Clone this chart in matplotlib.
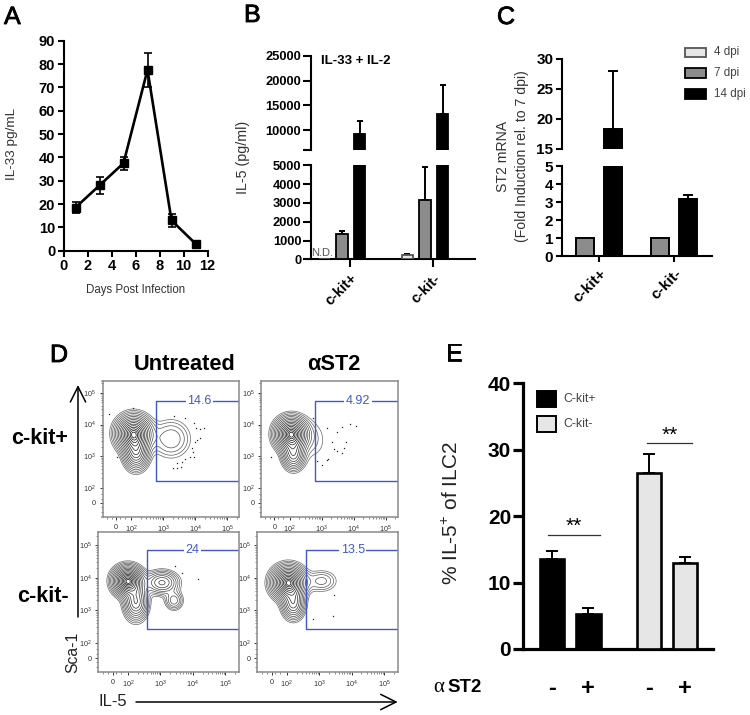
import numpy as np
import matplotlib
matplotlib.use("Agg")
import matplotlib.pyplot as plt
import matplotlib.patheffects as pe
from matplotlib.patches import Rectangle

plt.rcParams['font.family'] = ['Liberation Sans', 'DejaVu Sans']
plt.rcParams['mathtext.default'] = 'regular'

W, H = 750, 715

# panel A
a_days = [1, 3, 5, 7, 9, 11]
a_il33 = [18.5, 28, 37.5, 77.5, 13, 3]
a_err = [2.5, 3.7, 2.8, 7.4, 2.8, 0.8]

# panel B, bar height and top of the error bar
b_groups = ["c-kit+", "c-kit-"]
b_4dpi = [0, 230]
b_4dpi_top = [0, 290]
b_7dpi = [1320, 3130]
b_7dpi_top = [1500, 4900]
b_14dpi = [9300, 13200]
b_14dpi_top = [11900, 19200]

# panel C
c_groups = ["c-kit+", "c-kit-"]
c_7dpi = [1, 1]
c_14dpi = [18.3, 3.15]
c_14dpi_top = [28, 3.4]

# panel E
e_values = [13.6, 5.3, 26.5, 13]
e_tops = [14.8, 6.1, 29.4, 13.9]
e_signs = ["-", "+", "-", "+"]

# panel D, density peaks: x, y, sd x, sd y, height
d_blobs_untreated_pos = [(2.08, 3.72, 0.29, 0.30, 1.0), (2.16, 3.10, 0.21, 0.29, 0.55),
                         (3.25, 3.55, 0.36, 0.36, 0.15)]
d_blobs_ast2_pos = [(2.05, 3.70, 0.27, 0.28, 1.0), (2.12, 3.05, 0.19, 0.26, 0.45),
                    (2.75, 3.50, 0.32, 0.46, 0.05)]
d_blobs_untreated_neg = [(2.00, 3.90, 0.25, 0.24, 1.0), (2.25, 3.25, 0.20, 0.30, 0.50),
                         (3.05, 3.85, 0.28, 0.20, 0.35), (3.42, 3.30, 0.16, 0.17, 0.18)]
d_blobs_ast2_neg = [(2.05, 3.85, 0.28, 0.27, 1.0), (2.20, 3.20, 0.19, 0.26, 0.45),
                    (3.08, 3.90, 0.28, 0.20, 0.12)]

# outlying events
d_dots_untreated_pos_x = [1.31, 2.05, 3.34, 3.67, 3.95, 4.03, 4.16, 4.29, 4.16, 4.05, 3.99,
                          3.90, 3.93, 3.84, 3.97, 3.69, 3.58, 3.43, 3.32, 3.43, 3.56, 1.55]
d_dots_untreated_pos_y = [4.34, 4.53, 4.27, 4.22, 4.04, 3.88, 3.86, 3.90, 3.59, 3.51, 3.44,
                          3.25, 3.13, 2.99, 2.99, 2.91, 2.83, 2.78, 2.64, 2.62, 2.65, 2.99]
d_dots_ast2_pos_x = [2.72, 3.18, 3.64, 3.89, 4.08, 3.47, 3.32, 3.76, 3.39, 3.47, 3.70, 3.64,
                     3.21, 3.16, 3.02, 1.42, 2.85]
d_dots_ast2_pos_y = [4.20, 3.90, 3.93, 4.03, 3.97, 3.77, 3.45, 3.46, 3.23, 3.17, 3.25, 3.10,
                     2.91, 2.88, 2.73, 2.98, 2.85]
d_dots_untreated_neg_x = [3.45, 3.68, 4.17]
d_dots_untreated_neg_y = [4.36, 4.16, 3.96]
d_dots_ast2_neg_x = [3.46, 2.82, 3.41]
d_dots_ast2_neg_y = [3.47, 2.72, 2.81]

d_percent = ["14.6", "4.92", "24", "13.5"]

GRAY = "#8c8c8c"
LIGHT = "#e6e6e6"
TEXT = "#333333"
BLUE = "#3f58cc"


def px_axes(left, top, right, bottom):
    ax = fig.add_axes([left / W, 1 - bottom / H, (right - left) / W, (bottom - top) / H])
    ax.patch.set_visible(False)
    return ax


def style_axis(ax, size, lw, length, bottom=True):
    ax.spines["top"].set_visible(False)
    ax.spines["right"].set_visible(False)
    ax.spines["left"].set_linewidth(lw)
    ax.spines["bottom"].set_linewidth(lw)
    ax.spines["bottom"].set_visible(bottom)
    ax.tick_params(width=lw, length=length, labelsize=size, pad=1.5)
    for label in ax.get_xticklabels() + ax.get_yticklabels():
        label.set_fontweight("bold")


def draw_bars(ax, x, values, tops, fill, edge, width, lw, capsize):
    values = np.array(values, dtype=float)
    ax.bar(x, values, width=width, color=fill, edgecolor=edge, linewidth=lw, zorder=3)
    if tops is not None:
        upper = np.array(tops, dtype=float) - values
        ax.errorbar(x, values, yerr=[np.zeros(len(values)), upper], fmt="none", ecolor="black",
                    elinewidth=1.4, capsize=capsize, capthick=1.4, zorder=2)


def draw_flow(box, xlim, ylim, blobs, dots_x, dots_y, gate, percent, percent_x):
    ax = px_axes(*box)
    gx = np.linspace(xlim[0], xlim[1], 400)
    gy = np.linspace(ylim[0], ylim[1], 400)
    X, Y = np.meshgrid(gx, gy)
    Z = np.zeros_like(X)
    for cx, cy, sx, sy, amp in blobs:
        Z += amp * np.exp(-0.5 * (((X - cx) / sx) ** 2 + ((Y - cy) / sy) ** 2))
    Z = Z / Z.max()
    # rings evenly spaced in radius, outer ones paler like the reference plots
    radii = np.linspace(2.6, 0.25, 16)
    levels = np.exp(-0.5 * radii ** 2)
    shades = plt.get_cmap("gray")(np.linspace(0.4, 0.0, len(levels)))
    ax.contour(X, Y, Z, levels=levels, colors=shades, linewidths=0.5)
    ax.plot(dots_x, dots_y, ls="none", marker="s", ms=0.9, color="#222222", mew=0)

    # gate is open on the right, it runs into the frame
    left, low, high = gate
    ax.plot([xlim[1], left, left, xlim[1]], [high, high, low, low], color=BLUE, lw=1.0)
    ax.text(percent_x, high, percent, color=BLUE, fontsize=9, ha="center", va="center",
            bbox=dict(facecolor="white", edgecolor="none", pad=1.2))

    ax.set_xlim(xlim)
    ax.set_ylim(ylim)
    ticks = [1.53, 2, 3, 4, 5]
    labels = ["0", "$10^{2}$", "$10^{3}$", "$10^{4}$", "$10^{5}$"]
    minor = [d + np.log10(m) for d in range(2, 5) for m in range(2, 10)]
    minor += [1.25, 1.4, 1.65, 1.8, 5.3]
    for axis in (ax.xaxis, ax.yaxis):
        axis.set_ticks(ticks)
        axis.set_ticklabels(labels)
        axis.set_ticks(minor, minor=True)
    ax.tick_params(which="major", length=2.2, width=0.7, labelsize=5.2, pad=2.5,
                   color="#333333", labelcolor=TEXT)
    ax.tick_params(which="minor", length=1.2, width=0.4, color="#333333")
    for spine in ax.spines.values():
        spine.set_color("#8a8a8a")
        spine.set_linewidth(1.1)
    return ax


fig = plt.figure(figsize=(W / 100, H / 100), dpi=100, facecolor="white")

# A
ax = px_axes(63.5, 40.7, 207.5, 250.7)
ax.errorbar(a_days, a_il33, yerr=a_err, color="black", lw=1.9, marker="s", ms=5.5,
            elinewidth=1.2, capsize=3, capthick=1.2, clip_on=False)
ax.set_xlim(0, 12)
ax.set_ylim(0, 90)
ax.set_xticks(range(0, 13, 2))
ax.set_yticks(range(0, 91, 10))
style_axis(ax, 10.5, 1.5, 4.5)

# B, broken y axis, same bars in both parts
b_x = np.array([0, 4.72])
for box, ylim in (((311, 165.3, 475, 259.3), (0, 5000)), ((311, 56, 475, 150), (6000, 25000))):
    ax = px_axes(*box)
    draw_bars(ax, b_x - 1, b_4dpi, b_4dpi_top, LIGHT, "#555555", 0.66, 1.3, 2.5)
    draw_bars(ax, b_x, b_7dpi, b_7dpi_top, GRAY, "black", 0.66, 1.3, 2.5)
    draw_bars(ax, b_x + 1, b_14dpi, b_14dpi_top, "black", "black", 0.66, 1.3, 2.5)
    ax.set_xlim(-1.76, 7.56)
    ax.set_ylim(ylim)
    if ylim[0] == 0:
        ax.set_yticks(range(0, 5001, 1000))
        ax.set_xticks(b_x + 0.45)
        ax.set_xticklabels(b_groups, rotation=45, ha="right", va="top", rotation_mode="anchor")
        style_axis(ax, 9.3, 1.5, 5.5)
        ax.tick_params(axis="x", labelsize=10.5, pad=3)
    else:
        ax.set_yticks([6000, 10000, 15000, 20000, 25000])
        ax.set_yticklabels(["", "10000", "15000", "20000", "25000"])
        ax.set_xticks([])
        style_axis(ax, 9.3, 1.5, 5.5, bottom=False)

# C, broken y axis, no 4 dpi bars here
c_x = np.array([0, 2.68])
for box, ylim in (((561.7, 166, 711.7, 256.3), (0, 5)), ((561.7, 58.7, 711.7, 148.7), (15, 30))):
    ax = px_axes(*box)
    draw_bars(ax, c_x, c_7dpi, None, GRAY, "black", 0.64, 1.4, 3.8)
    draw_bars(ax, c_x + 1, c_14dpi, c_14dpi_top, "black", "black", 0.64, 1.4, 3.8)
    ax.set_xlim(-0.83, 4.52)
    ax.set_ylim(ylim)
    if ylim[0] == 0:
        ax.set_yticks(range(0, 6))
        ax.set_xticks(c_x + 0.5)
        ax.set_xticklabels(c_groups, rotation=45, ha="right", va="top", rotation_mode="anchor")
        style_axis(ax, 11, 1.5, 4.5)
        ax.tick_params(axis="x", pad=3)
    else:
        ax.set_yticks([15, 20, 25, 30])
        ax.set_xticks([])
        style_axis(ax, 11, 1.5, 4.5, bottom=False)

# D
top_x, top_y = (1.11, 5.37), (1.085, 5.375)
low_x, low_y = (1.09, 5.42), (1.09, 5.40)
draw_flow((102.5, 381, 239, 517), top_x, top_y, d_blobs_untreated_pos, d_dots_untreated_pos_x,
          d_dots_untreated_pos_y, (2.77, 2.23, 4.73), d_percent[0], 4.14)
draw_flow((261, 381, 397.7, 517), top_x, top_y, d_blobs_ast2_pos, d_dots_ast2_pos_x,
          d_dots_ast2_pos_y, (2.78, 2.23, 4.73), d_percent[1], 4.14)
draw_flow((98.3, 532.3, 239, 672.3), low_x, low_y, d_blobs_untreated_neg, d_dots_untreated_neg_x,
          d_dots_untreated_neg_y, (2.58, 2.41, 4.87), d_percent[2], 3.99)
draw_flow((257.3, 532.3, 397.7, 672.3), low_x, low_y, d_blobs_ast2_neg, d_dots_ast2_neg_x,
          d_dots_ast2_neg_y, (2.60, 2.41, 4.87), d_percent[3], 4.03)

# E
e_x = [0, 1, 2.68, 3.68]
ax = px_axes(523, 383.3, 713, 649)
draw_bars(ax, e_x[:2], e_values[:2], e_tops[:2], "black", "black", 0.68, 1.9, 4.5)
draw_bars(ax, e_x[2:], e_values[2:], e_tops[2:], LIGHT, "black", 0.68, 1.9, 4.5)
ax.plot([-0.12, 1.325], [17.2, 17.2], color="#333333", lw=0.9)
ax.plot([2.62, 3.88], [31, 31], color="#333333", lw=0.9)
ax.text(0.6, 18.4, "**", fontsize=15, ha="center", va="center")
ax.text(3.25, 32.2, "**", fontsize=15, ha="center", va="center")
ax.set_xlim(-0.81, 4.46)
ax.set_ylim(0, 40)
ax.set_xticks(e_x)
ax.set_xticklabels(e_signs)
ax.set_yticks([0, 10, 20, 30, 40])
style_axis(ax, 15, 2.3, 7)
ax.tick_params(axis="x", length=0, pad=20, labelsize=17)

# overlay in picture pixels for the lettering, arrows and hand placed legends
ov = fig.add_axes([0, 0, 1, 1], zorder=10)
ov.set_xlim(0, W)
ov.set_ylim(H, 0)
ov.axis("off")

for letter, x, y in (("A", 4, 24), ("B", 244, 22), ("C", 497, 24), ("D", 50, 362), ("E", 445.7, 360.7)):
    ov.text(x, y, letter, fontsize=18, ha="left", va="baseline",
            path_effects=[pe.withStroke(linewidth=0.6, foreground="black")])

ov.text(12, 144, "IL-33 pg/mL", fontsize=9.7, rotation=90, ha="center", va="center", color=TEXT)
ov.text(135.5, 290, "Days Post Infection", fontsize=8.3, ha="center", va="center", color=TEXT)
ov.text(243, 157, "IL-5 (pg/ml)", fontsize=10.3, rotation=90, ha="center", va="center", color=TEXT)
ov.text(355.5, 60.7, "IL-33 + IL-2", fontsize=9.5, fontweight="bold", ha="center", va="center")
ov.text(322, 253, "N.D.", fontsize=8, ha="center", va="center", color="#555555")
ov.text(502.7, 156, "ST2 mRNA", fontsize=10.1, rotation=90, ha="center", va="center", color=TEXT)
ov.text(521.7, 156, "(Fold Induction rel. to 7 dpi)", fontsize=10.1, rotation=90, ha="center",
        va="center", color=TEXT)

# legend of C
for y0, y1, label, fill, edge in ((47.7, 56.7, "4 dpi", LIGHT, "#555555"), (68, 77.7, "7 dpi", GRAY, "black"),
                                  (89, 99, "14 dpi", "black", "black")):
    ov.add_patch(Rectangle((684.5, y0), 21, y1 - y0, facecolor=fill, edgecolor=edge, lw=1.3))
    ov.text(714, (y0 + y1) / 2, label, fontsize=8.4, va="center", color="#444444")

# D lettering
ov.text(185, 370, "Untreated", fontsize=15.7, fontweight="bold", ha="center", va="baseline")
ov.text(333.5, 370, "\u03b1ST2", fontsize=15.7, fontweight="bold", ha="center", va="baseline")
ov.text(39.5, 444, "c-kit+", fontsize=15.5, fontweight="bold", ha="center", va="baseline")
ov.text(43, 602, "c-kit-", fontsize=15.5, fontweight="bold", ha="center", va="baseline")
ov.text(73, 652, "Sca-1", fontsize=11.3, rotation=90, ha="center", va="center", color="#222222")
ov.text(98, 705.7, "IL-5", fontsize=12, ha="left", va="baseline", color="#222222")
arrow = dict(arrowstyle="->,head_length=1.1,head_width=0.55", lw=1.1, color="black",
             shrinkA=0, shrinkB=0, mutation_scale=10)
ov.annotate("", xy=(78, 385), xytext=(78, 617), arrowprops=arrow)
ov.annotate("", xy=(397.7, 702), xytext=(136, 702), arrowprops=arrow)

# legend and labels of E
ov.add_patch(Rectangle((537, 391), 18.5, 15.5, facecolor="black", edgecolor="black", lw=1.4))
ov.add_patch(Rectangle((537, 416), 18.5, 15.5, facecolor=LIGHT, edgecolor="black", lw=1.4))
ov.text(563, 399, "C-kit+", fontsize=8.8, va="center", color="#444444")
ov.text(563, 424, "C-kit-", fontsize=8.8, va="center", color="#444444")
ov.text(452, 513, "% IL-5$^{+}$ of ILC2", fontsize=15, rotation=90, ha="center", va="center",
        color="#222222")
ov.text(433, 691.7, "\u03b1", fontsize=15, family=["Liberation Serif"], va="baseline")
ov.text(447, 691.7, "ST2", fontsize=13.4, fontweight="bold", va="baseline")

fig.savefig("out.png", dpi=100)
